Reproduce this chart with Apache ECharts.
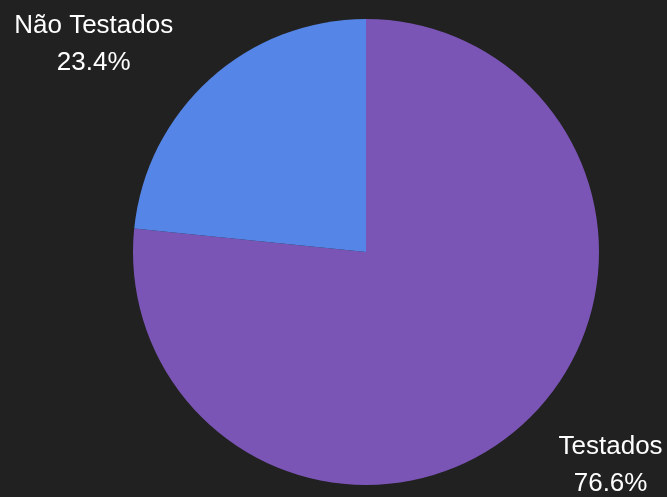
<!DOCTYPE html>
<html><head><meta charset="utf-8">
<style>html,body{margin:0;padding:0;background:#212121;}#c{width:667px;height:497px;}</style>
<script src="https://cdn.jsdelivr.net/npm/echarts@6/dist/echarts.min.js"></script>
</head><body><div id="c"></div>
<script>
const categories = ['Testados', 'Não Testados'];
const values = [76.6, 23.4];
const colors = ['#7b55b6', '#5585e6'];
const labelLengths = [55, 47];

const chart = echarts.init(document.getElementById('c'), null, {renderer: 'canvas'});
chart.setOption({
  backgroundColor: '#212121',
  animation: false,
  series: [{
    type: 'pie',
    center: [366, 252],
    radius: [0, 233],
    startAngle: 90,
    clockwise: true,
    data: categories.map((c, i) => ({
      name: c, value: values[i], itemStyle: {color: colors[i]},
      labelLine: {show: false, length: labelLengths[i], length2: 0}
    })),
    itemStyle: {borderWidth: 0},
    label: {
      show: true,
      position: 'outside',
      overflow: 'none',
      formatter: p => '{a|' + p.name + '}\n{a|' + p.value.toFixed(1) + '%}',
      color: '#ffffff',
      fontFamily: 'Liberation Sans, Arial, sans-serif',
      fontSize: 26,
      rich: {a: {align: 'center', color: '#ffffff', fontSize: 26, lineHeight: 37, fontFamily: 'Liberation Sans, Arial, sans-serif'}}
    },
    labelLine: {show: false, length: 50, length2: 0},
    emphasis: {disabled: true}
  }]
});
</script></body></html>
